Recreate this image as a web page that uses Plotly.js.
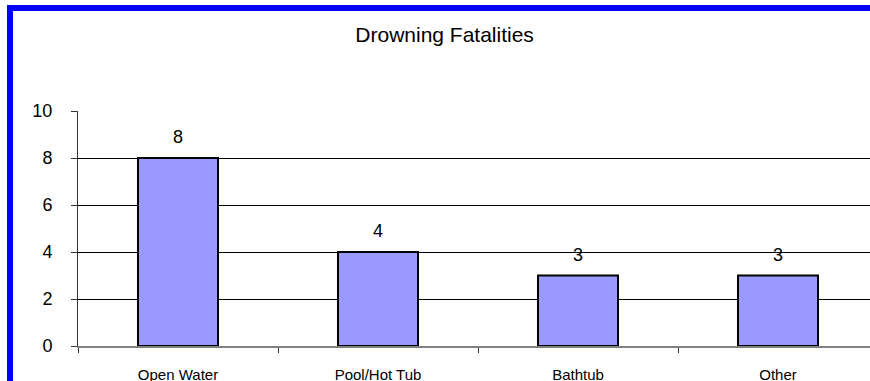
<!DOCTYPE html>
<html>
<head>
<meta charset="utf-8">
<script src="https://cdn.plot.ly/plotly-3.0.1.min.js"></script>
<style>
  html, body { margin: 0; padding: 0; background: #fff; overflow: hidden; width: 870px; height: 381px; }
  #chart { position: absolute; left: 0; top: 0; width: 900px; height: 400px; }
  #frame {
    position: absolute; left: 7px; top: 5px; width: 2000px; height: 2000px;
    border: 6px solid #0000ff; pointer-events: none; box-sizing: border-box;
  }
</style>
</head>
<body>
<div id="chart"></div>
<div id="frame"></div>
<script>
// Drowning fatalities by location
const categories = ["Open Water", "Pool/Hot Tub", "Bathtub", "Other"];
const fatalities = [8, 4, 3, 3];
const yTicks = [0, 2, 4, 6, 8, 10];
const gridTicks = [2, 4, 6, 8];

const FONT = "Liberation Sans, Arial, sans-serif";

const bars = {
  type: "bar",
  x: categories,
  y: fatalities,
  width: 0.4,
  marker: { color: "#9999ff", line: { color: "#000000", width: 2 } },
  hoverinfo: "skip"
};

// invisible trace that carries the horizontal gridlines
const gridCarrier = {
  type: "scatter",
  x: categories,
  y: fatalities,
  yaxis: "y2",
  mode: "none",
  showlegend: false,
  hoverinfo: "skip"
};

const valueLabels = categories.map((c, i) => ({
  x: c,
  y: fatalities[i],
  xref: "x",
  yref: "y",
  text: String(fatalities[i]),
  showarrow: false,
  yanchor: "bottom",
  yshift: 9,
  font: { family: FONT, size: 18, color: "#000" }
}));

const layout = {
  width: 900,
  height: 400,
  margin: { l: 78, r: 22, t: 111, b: 54 },
  paper_bgcolor: "#ffffff",
  plot_bgcolor: "rgba(0,0,0,0)",
  showlegend: false,
  bargap: 0.6,
  title: {
    text: "Drowning Fatalities",
    xref: "container",
    yref: "container",
    x: 0.494,
    xanchor: "center",
    y: 1 - 35 / 400,
    yanchor: "middle",
    font: { family: FONT, size: 21, color: "#000" }
  },
  xaxis: {
    type: "category",
    showgrid: false,
    showline: true,
    linecolor: "#808080",
    linewidth: 2,
    ticks: "outside",
    tickson: "boundaries",
    ticklen: 5,
    tickcolor: "#333",
    tickwidth: 1,
    ticklabelstandoff: 14,
    tickfont: { family: FONT, size: 15, color: "#000" },
    zeroline: false,
    fixedrange: true
  },
  yaxis: {
    range: [0, 10],
    tickvals: yTicks,
    ticktext: yTicks.map(String),
    showgrid: false,
    zeroline: false,
    showline: true,
    linecolor: "#333",
    linewidth: 1,
    ticks: "outside",
    ticklen: 6,
    tickcolor: "#333",
    ticklabelstandoff: 15,
    tickfont: { family: FONT, size: 18, color: "#000" },
    fixedrange: true
  },
  yaxis2: {
    overlaying: "y",
    range: [0, 10],
    tickvals: gridTicks,
    showticklabels: false,
    showgrid: true,
    gridcolor: "#000000",
    gridwidth: 1,
    zeroline: false,
    showline: false,
    ticks: "",
    fixedrange: true
  },
  annotations: valueLabels
};

Plotly.newPlot("chart", [gridCarrier, bars], layout, { staticPlot: true, displayModeBar: false });
</script>
</body>
</html>
